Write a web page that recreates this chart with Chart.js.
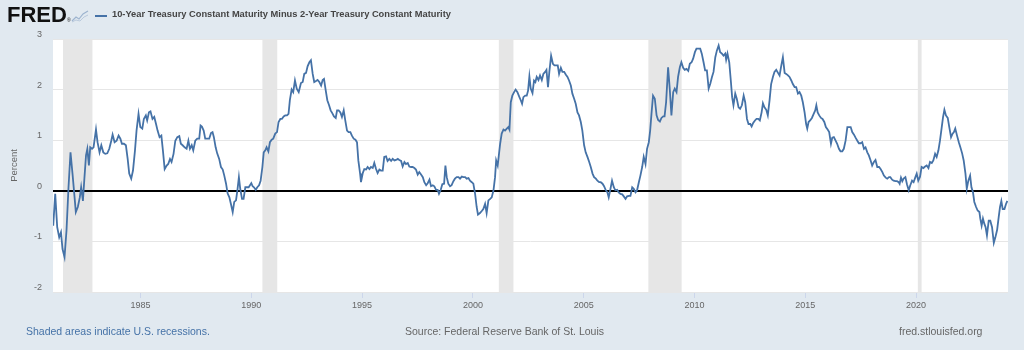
<!DOCTYPE html>
<html>
<head>
<meta charset="utf-8">
<script src="https://cdn.jsdelivr.net/npm/chart.js"></script>
<style>
body{margin:0;background:#e1e9f0;font-family:"Liberation Sans",Arial,sans-serif;}
#wrap{position:relative;width:1024px;height:350px;overflow:hidden}
#chartbox{position:absolute;left:0;top:0;width:1024px;height:350px}
.logo{position:absolute;left:7px;top:2px;font:bold 22px "Liberation Sans",Arial,sans-serif;color:#111;letter-spacing:0}
.logo sup{font-size:5px;font-weight:normal;vertical-align:0;margin-left:0}
.icon{position:absolute;left:71px;top:10px}
.legline{position:absolute;left:95px;top:15px;width:12px;height:2px;background:#4572a7}
.title{position:absolute;left:112px;top:9px;font-size:9.3px;font-weight:bold;color:#444;white-space:nowrap}
.foot{position:absolute;top:325px;font-size:10.5px;color:#666;white-space:nowrap}
</style>
</head>
<body>
<div id="wrap">
  <div id="chartbox"><canvas id="chart"></canvas></div>
  <div class="logo">FRED<sup>®</sup></div>
  <svg class="icon" width="18" height="13" viewBox="0 0 18 13">
    <rect x="0" y="0" width="18" height="13" fill="#e1e9f0"/>
    <polyline points="1,11 5,7 8,9 12,4 17,1" fill="none" stroke="#9db4cf" stroke-width="1.2"/>
    <polyline points="1,12 5,10 9,11 13,7 17,5" fill="none" stroke="#b9c9dc" stroke-width="1"/>
  </svg>
  <div class="legline"></div>
  <div class="title">10-Year Treasury Constant Maturity Minus 2-Year Treasury Constant Maturity</div>
  <div class="foot" style="left:26px;color:#4572a7">Shaded areas indicate U.S. recessions.</div>
  <div class="foot" style="left:405px">Source: Federal Reserve Bank of St. Louis</div>
  <div class="foot" style="left:899px">fred.stlouisfed.org</div>
</div>
<script>
// monthly-ish readings, decimal years
const dates = [
  1981.06,1981.15,1981.24,1981.33,1981.41,1981.48,1981.57,1981.66,1981.75,1981.84,
  1981.93,1982.01,1982.08,1982.17,1982.26,1982.32,1982.40,1982.46,1982.54,1982.60,
  1982.67,1982.73,1982.81,1982.88,1982.99,1983.06,1983.15,1983.23,1983.32,1983.41,
  1983.50,1983.59,1983.68,1983.74,1983.83,1983.92,1984.01,1984.09,1984.16,1984.25,
  1984.34,1984.42,1984.49,1984.58,1984.66,1984.75,1984.82,1984.91,1984.99,1985.08,
  1985.15,1985.24,1985.30,1985.38,1985.45,1985.54,1985.62,1985.70,1985.77,1985.86,
  1985.94,1986.01,1986.09,1986.18,1986.25,1986.33,1986.40,1986.49,1986.57,1986.66,
  1986.75,1986.82,1986.90,1986.99,1987.08,1987.16,1987.23,1987.31,1987.38,1987.47,
  1987.56,1987.65,1987.71,1987.77,1987.85,1987.92,1988.01,1988.10,1988.18,1988.25,
  1988.31,1988.39,1988.46,1988.55,1988.63,1988.71,1988.78,1988.86,1988.93,1989.01,
  1989.08,1989.16,1989.23,1989.31,1989.38,1989.44,1989.50,1989.58,1989.65,1989.73,
  1989.80,1989.88,1989.94,1990.00,1990.06,1990.12,1990.20,1990.27,1990.35,1990.42,
  1990.50,1990.56,1990.63,1990.69,1990.77,1990.84,1990.92,1990.99,1991.08,1991.16,
  1991.23,1991.31,1991.38,1991.46,1991.53,1991.61,1991.68,1991.74,1991.82,1991.89,
  1991.97,1992.05,1992.14,1992.24,1992.32,1992.39,1992.47,1992.54,1992.62,1992.69,
  1992.77,1992.84,1992.92,1992.99,1993.07,1993.15,1993.22,1993.28,1993.36,1993.43,
  1993.51,1993.58,1993.66,1993.73,1993.81,1993.87,1993.94,1994.02,1994.09,1994.17,
  1994.24,1994.32,1994.39,1994.47,1994.54,1994.62,1994.70,1994.77,1994.83,1994.91,
  1994.95,1995.03,1995.10,1995.18,1995.25,1995.33,1995.40,1995.48,1995.55,1995.63,
  1995.70,1995.78,1995.85,1995.93,1996.00,1996.08,1996.15,1996.23,1996.31,1996.38,
  1996.46,1996.53,1996.61,1996.68,1996.76,1996.83,1996.91,1996.98,1997.06,1997.13,
  1997.21,1997.28,1997.36,1997.43,1997.51,1997.58,1997.66,1997.74,1997.81,1997.89,
  1997.96,1998.04,1998.11,1998.19,1998.26,1998.34,1998.41,1998.47,1998.55,1998.62,
  1998.70,1998.76,1998.82,1998.89,1998.97,1999.04,1999.12,1999.19,1999.27,1999.35,
  1999.42,1999.50,1999.57,1999.65,1999.72,1999.80,1999.87,1999.95,2000.02,2000.10,
  2000.17,2000.23,2000.32,2000.40,2000.47,2000.55,2000.62,2000.70,2000.78,2000.85,
  2000.93,2001.00,2001.05,2001.12,2001.23,2001.30,2001.38,2001.45,2001.53,2001.60,
  2001.65,2001.71,2001.78,2001.86,2001.93,2002.01,2002.09,2002.16,2002.22,2002.28,
  2002.36,2002.43,2002.49,2002.55,2002.61,2002.69,2002.76,2002.82,2002.88,2002.96,
  2003.03,2003.11,2003.18,2003.26,2003.32,2003.39,2003.45,2003.53,2003.61,2003.68,
  2003.76,2003.83,2003.89,2003.97,2004.04,2004.12,2004.19,2004.27,2004.34,2004.42,
  2004.49,2004.57,2004.64,2004.72,2004.79,2004.87,2004.94,2005.02,2005.09,2005.17,
  2005.25,2005.32,2005.40,2005.47,2005.55,2005.62,2005.70,2005.77,2005.85,2005.92,
  2006.00,2006.07,2006.13,2006.21,2006.28,2006.36,2006.43,2006.51,2006.58,2006.66,
  2006.74,2006.81,2006.89,2006.96,2007.04,2007.11,2007.19,2007.26,2007.34,2007.41,
  2007.49,2007.56,2007.64,2007.71,2007.79,2007.86,2007.94,2008.00,2008.06,2008.13,
  2008.21,2008.29,2008.36,2008.44,2008.51,2008.59,2008.65,2008.72,2008.81,2008.89,
  2008.96,2009.04,2009.11,2009.19,2009.26,2009.34,2009.41,2009.49,2009.56,2009.64,
  2009.72,2009.79,2009.87,2009.94,2010.02,2010.09,2010.18,2010.26,2010.33,2010.41,
  2010.48,2010.56,2010.64,2010.71,2010.79,2010.86,2010.94,2011.01,2011.09,2011.16,
  2011.24,2011.31,2011.39,2011.43,2011.49,2011.57,2011.64,2011.70,2011.76,2011.84,
  2011.91,2011.99,2012.06,2012.14,2012.22,2012.29,2012.37,2012.44,2012.52,2012.58,
  2012.65,2012.73,2012.80,2012.88,2012.95,2013.03,2013.09,2013.16,2013.24,2013.31,
  2013.39,2013.46,2013.54,2013.61,2013.69,2013.77,2013.84,2013.92,2013.99,2014.07,
  2014.14,2014.22,2014.29,2014.37,2014.44,2014.52,2014.59,2014.67,2014.74,2014.82,
  2014.89,2014.97,2015.04,2015.09,2015.15,2015.22,2015.30,2015.38,2015.45,2015.50,
  2015.56,2015.63,2015.71,2015.78,2015.86,2015.93,2016.01,2016.08,2016.16,2016.22,
  2016.29,2016.37,2016.44,2016.52,2016.59,2016.67,2016.74,2016.82,2016.90,2016.97,
  2017.05,2017.12,2017.20,2017.27,2017.35,2017.42,2017.50,2017.57,2017.65,2017.72,
  2017.80,2017.87,2017.95,2018.02,2018.10,2018.17,2018.25,2018.33,2018.40,2018.48,
  2018.55,2018.63,2018.70,2018.78,2018.84,2018.92,2018.99,2019.07,2019.14,2019.22,
  2019.26,2019.32,2019.38,2019.44,2019.52,2019.59,2019.67,2019.74,2019.82,2019.89,
  2019.97,2020.03,2020.10,2020.18,2020.25,2020.33,2020.41,2020.48,2020.56,2020.63,
  2020.71,2020.78,2020.86,2020.93,2021.01,2021.08,2021.16,2021.22,2021.28,2021.35,
  2021.43,2021.50,2021.58,2021.65,2021.71,2021.77,2021.85,2021.93,2022.00,2022.08,
  2022.15,2022.23,2022.29,2022.36,2022.44,2022.50,2022.57,2022.63,2022.71,2022.78,
  2022.86,2022.90,2022.96,2023.02,2023.08,2023.14,2023.20,2023.28,2023.35,2023.43,
  2023.51,2023.58,2023.66,2023.73,2023.79,2023.85,2023.91,2023.99,2024.06,2024.12
];
const spread = [
  -0.69,-0.06,-0.72,-0.92,-0.82,-1.15,-1.31,-0.78,0.07,0.76,
  0.34,-0.06,-0.42,-0.32,-0.13,0.07,-0.2,0.2,0.7,0.83,
  0.5,0.86,0.83,0.86,1.21,0.96,0.76,0.9,0.76,0.73,
  0.74,0.83,0.99,1.11,0.96,0.99,1.09,1.03,0.93,0.93,
  0.9,0.63,0.34,0.24,0.4,0.8,1.19,1.52,1.26,1.23,
  1.42,1.49,1.39,1.55,1.57,1.42,1.46,1.32,1.19,1.06,
  1.09,0.8,0.43,0.5,0.53,0.63,0.57,0.73,0.99,1.06,
  1.08,0.93,0.9,0.86,0.83,0.99,0.83,0.9,0.8,0.99,
  1.03,1.03,1.29,1.27,1.19,1.03,1.03,1.03,1.14,1.16,
  1.06,0.86,0.74,0.63,0.47,0.42,0.3,0.14,-0.05,-0.13,
  -0.26,-0.42,-0.22,-0.19,0.04,0.27,0.04,-0.16,-0.16,0.07,
  0.07,0.07,0.11,0.15,0.09,0.07,0.02,0.07,0.11,0.2,
  0.47,0.76,0.8,0.86,0.78,0.96,1.01,1.03,1.13,1.16,
  1.36,1.42,1.42,1.47,1.49,1.49,1.52,1.79,2.0,1.95,
  2.18,2.02,1.95,2.13,2.15,2.31,2.33,2.46,2.54,2.58,
  2.31,2.15,2.17,2.19,2.15,2.08,2.19,2.21,1.98,1.79,
  1.69,1.59,1.53,1.47,1.44,1.59,1.59,1.55,1.46,1.59,
  1.39,1.19,1.16,1.16,1.09,1.03,1.01,0.96,0.6,0.34,
  0.17,0.35,0.43,0.42,0.47,0.43,0.47,0.45,0.55,0.43,
  0.35,0.42,0.4,0.4,0.67,0.68,0.59,0.63,0.59,0.63,
  0.6,0.61,0.63,0.61,0.59,0.48,0.57,0.53,0.55,0.48,
  0.47,0.47,0.45,0.42,0.32,0.37,0.32,0.27,0.17,0.11,
  0.15,0.22,0.09,0.11,0.09,0.02,0.02,-0.06,0.02,0.13,
  0.14,0.5,0.27,0.14,0.09,0.11,0.19,0.24,0.27,0.27,
  0.24,0.28,0.27,0.27,0.24,0.25,0.2,0.17,0.14,-0.06,
  -0.32,-0.47,-0.44,-0.4,-0.36,-0.26,-0.44,-0.19,-0.16,-0.13,
  0.01,0.27,0.6,0.5,0.93,1.13,1.21,1.19,1.23,1.26,
  1.21,1.75,1.88,1.95,2.0,1.95,1.86,1.79,1.72,1.85,
  1.88,1.88,1.98,2.26,2.02,1.93,2.18,2.15,2.25,2.19,
  2.28,2.19,2.31,2.35,2.39,2.05,2.35,2.67,2.51,2.48,
  2.48,2.48,2.31,2.43,2.35,2.35,2.3,2.25,2.18,2.08,
  1.92,1.82,1.72,1.55,1.49,1.36,1.19,0.9,0.76,0.67,
  0.57,0.47,0.34,0.27,0.24,0.2,0.17,0.17,0.14,0.09,
  0.01,-0.03,-0.13,0.04,0.2,0.07,0.01,0.02,-0.03,-0.06,
  -0.07,-0.11,-0.16,-0.11,-0.1,-0.1,0.07,0.04,-0.03,0.01,
  0.17,0.3,0.47,0.67,0.53,0.83,0.96,1.19,1.52,1.88,
  1.82,1.49,1.4,1.37,1.44,1.47,1.47,1.75,2.44,1.98,
  1.49,1.95,2.02,1.95,2.25,2.44,2.54,2.43,2.39,2.41,
  2.37,2.51,2.54,2.61,2.74,2.81,2.81,2.81,2.71,2.54,
  2.38,2.38,2.02,2.11,2.25,2.35,2.64,2.77,2.87,2.74,
  2.71,2.67,2.71,2.59,2.71,2.54,2.18,1.85,1.69,1.92,
  1.82,1.65,1.62,1.69,1.88,1.75,1.42,1.32,1.32,1.27,
  1.34,1.39,1.42,1.42,1.39,1.55,1.73,1.65,1.6,1.49,
  1.79,2.11,2.25,2.35,2.39,2.33,2.28,2.48,2.64,2.33,
  2.31,2.28,2.25,2.18,2.11,2.05,2.05,1.92,1.95,1.88,
  1.75,1.55,1.32,1.23,1.36,1.39,1.44,1.52,1.59,1.69,
  1.55,1.49,1.44,1.42,1.36,1.26,1.21,1.16,0.93,1.05,
  1.06,0.99,0.93,0.83,0.78,0.78,0.83,0.99,1.26,1.26,
  1.26,1.16,1.11,1.05,0.99,0.94,0.94,0.96,0.83,0.86,
  0.76,0.7,0.6,0.5,0.57,0.61,0.47,0.47,0.43,0.37,
  0.3,0.26,0.24,0.27,0.27,0.22,0.2,0.19,0.19,0.17,
  0.14,0.26,0.19,0.24,0.27,0.13,0.01,0.11,0.2,0.17,
  0.27,0.34,0.2,0.28,0.47,0.45,0.48,0.5,0.45,0.57,
  0.55,0.6,0.73,0.67,0.8,0.99,1.26,1.46,1.6,1.49,
  1.44,1.26,1.06,1.13,1.16,1.23,1.09,0.96,0.86,0.74,
  0.6,0.34,0.04,0.2,0.3,0.07,-0.03,-0.22,-0.32,-0.39,
  -0.42,-0.55,-0.69,-0.55,-0.65,-0.72,-0.88,-0.59,-0.59,-0.72,
  -1.03,-0.92,-0.77,-0.52,-0.32,-0.2,-0.36,-0.36,-0.26,-0.2
];
const tickYears = [1985,1990,1995,2000,2005,2010,2015,2020];
// NBER recessions
const recessionStart = [1981.5, 1990.5, 2001.17, 2007.92, 2020.08];
const recessionEnd   = [1982.83, 1991.17, 2001.83, 2009.42, 2020.25];

const points = dates.map((d, i) => ({x: d, y: spread[i]}));

const shade = {
  id: 'shade',
  beforeDraw(chart) {
    const {ctx, chartArea: a, scales: {x}} = chart;
    ctx.save();
    ctx.fillStyle = '#fff';
    ctx.fillRect(a.left, a.top, a.width, a.height);
    ctx.fillStyle = '#e6e6e6';
    recessionStart.forEach((s, i) => {
      const x1 = x.getPixelForValue(s), x2 = x.getPixelForValue(recessionEnd[i]);
      ctx.fillRect(x1, a.top, x2 - x1, a.height);
    });
    ctx.restore();
  }
};

new Chart(document.getElementById('chart'), {
  type: 'line',
  data: {
    datasets: [{
      label: '10-Year Treasury Constant Maturity Minus 2-Year Treasury Constant Maturity',
      data: points,
      borderColor: '#4572a7',
      borderWidth: 1.8,
      pointRadius: 0,
      tension: 0
    }]
  },
  options: {
    responsive: true,
    maintainAspectRatio: false,
    animation: false,
    devicePixelRatio: 1,
    layout: {padding: {top: 39, right: 16, bottom: 28, left: 0}},
    plugins: {legend: {display: false}, tooltip: {enabled: false}},
    scales: {
      x: {
        type: 'linear',
        min: 1981.05,
        max: 2024.15,
        afterBuildTicks: s => { s.ticks = tickYears.map(v => ({value: v})); },
        afterFit: s => { s.height = 30; },
        grid: {drawOnChartArea: false, drawTicks: true, tickLength: 6, color: '#ccd6eb'},
        border: {display: false},
        ticks: {autoSkip: false, maxRotation: 0, padding: 2, color: '#666',
                font: {size: 9, family: '"Liberation Sans", Arial, sans-serif'},
                callback: v => String(v)}
      },
      y: {
        min: -2,
        max: 3,
        afterFit: s => { s.width = 53; },
        grid: {
          drawTicks: false,
          color: c => c.tick && c.tick.value === 0 ? '#000' : '#e6e6e6',
          lineWidth: c => c.tick && c.tick.value === 0 ? 2 : 1
        },
        border: {display: false},
        title: {display: true, text: 'Percent', color: '#666', padding: {top: 9, bottom: 0},
                font: {size: 9.5, family: '"Liberation Sans", Arial, sans-serif'}},
        ticks: {stepSize: 1, padding: 11, labelOffset: -4.5, color: '#666',
                font: {size: 9, family: '"Liberation Sans", Arial, sans-serif'}}
      }
    }
  },
  plugins: [shade]
});
</script>
</body>
</html>
